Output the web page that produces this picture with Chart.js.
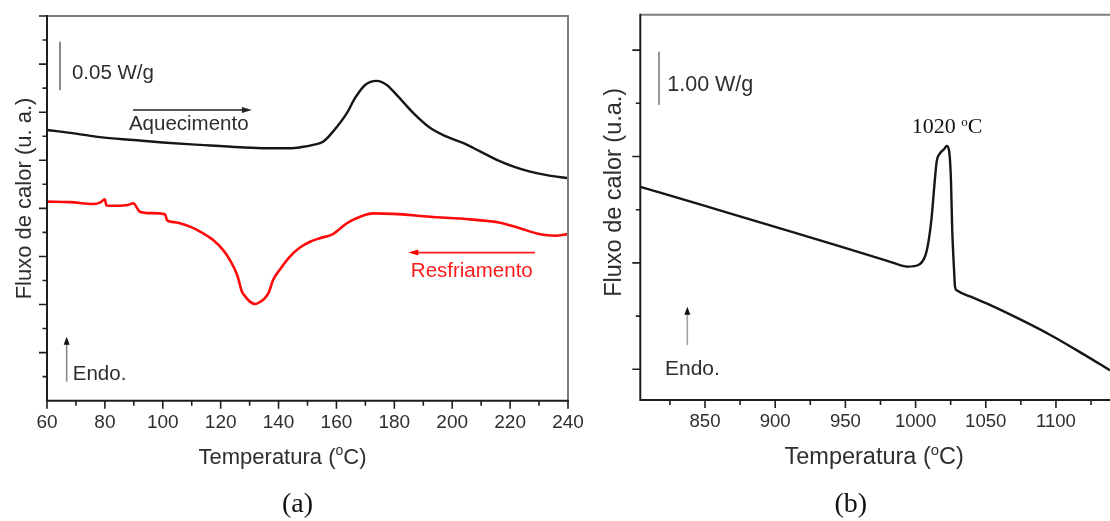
<!DOCTYPE html>
<html><head><meta charset="utf-8">
<script src="https://cdn.jsdelivr.net/npm/chart.js@4.4.1/dist/chart.umd.min.js"></script>
<style>
html,body{margin:0;padding:0;background:#fff;overflow:hidden;width:1110px;height:521px;}
#ca{position:absolute;left:0;top:0;}
#cb{position:absolute;left:585px;top:0;}
</style></head><body>
<canvas id="ca" width="600" height="521"></canvas>
<canvas id="cb" width="525" height="521"></canvas>
<script>
// ---------- DATA (a) ----------
const A_heatT = [60,70,78.3,90,100,112.9,126.7,136,144,148,151.9,155.4,158.8,163.6,166.4,169.9,173.9,177.4,180.8,186.6,192.3,198.1,203.9,209.6,215.4,221.2,226.9,232.7,240];
const A_heatF = [11.26,11.11,10.96,10.84,10.74,10.64,10.54,10.50,10.50,10.55,10.64,10.77,11.19,11.96,12.58,13.13,13.30,13.13,12.72,11.96,11.35,10.98,10.71,10.37,10.02,9.74,9.53,9.38,9.25];
const A_coolT = [60,68,76,78.5,80,80.5,84,88,89.8,92.1,96,100.8,101.5,104.2,109.4,112.9,117.4,120.8,123.2,125.7,127.4,128.4,130.1,131.9,133.6,135.3,136.7,138.1,140.5,144,147.4,150.9,154.3,158.8,163.6,168.2,172.6,179.6,192.3,206.2,216.5,223.4,230.4,235.5,240];
const A_coolF = [8.28,8.26,8.18,8.25,8.38,8.12,8.11,8.14,8.21,7.86,7.80,7.75,7.50,7.42,7.24,7.03,6.68,6.27,5.85,5.23,4.52,4.35,4.12,4.02,4.11,4.27,4.52,5.02,5.46,6.00,6.37,6.61,6.76,6.93,7.38,7.65,7.79,7.77,7.65,7.54,7.40,7.17,6.92,6.86,6.93];
const A_xTicks = [60,70,80,90,100,110,120,130,140,150,160,170,180,190,200,210,220,230,240];
const A_yTicks = [1,2,3,4,5,6,7,8,9,10,11,12,13,14,15,16];

// ---------- DATA (b) ----------
const B_T = [803.9,846.4,889.2,946.2,974.6,985.3,994.8,1001.9,1006.7,1009.0,1011.5,1013.3,1015.0,1017.4,1020.4,1022.2,1023.8,1025.2,1026.1,1027.4,1028.1,1029.5,1038.7,1052.9,1072.0,1095.7,1119.2,1138.5];
const B_F = [3.43,3.10,2.76,2.31,2.08,1.99,1.93,1.96,2.12,2.37,2.87,3.43,3.90,4.06,4.14,4.20,4.12,3.56,2.62,1.87,1.55,1.48,1.37,1.21,0.97,0.65,0.29,-0.02];
const B_xTicks = [825,850,875,900,925,950,975,1000,1025,1050,1075,1100,1125];
const B_yTicks = [0,1,2,3,4,5,6];

const SANS = '"Liberation Sans", Arial, Helvetica, sans-serif';
const SERIF = '"Liberation Serif", "Times New Roman", serif';
const TXT = '#2e2e2e';

function pts(t, f) { return t.map((v, i) => ({x: v, y: f[i]})); }

function txt(ctx, s, px, py, size, color, family, align) {
  ctx.font = size + 'px ' + (family || SANS);
  ctx.fillStyle = color; ctx.textAlign = align || 'left'; ctx.textBaseline = 'alphabetic';
  ctx.fillText(s, px, py);
}
function arrow(ctx, x1, y1, x2, y2, color, headColor, hl, hw, lw) {
  const a = Math.atan2(y2 - y1, x2 - x1), c = Math.cos(a), s = Math.sin(a);
  ctx.strokeStyle = color; ctx.lineWidth = lw;
  ctx.beginPath(); ctx.moveTo(x1, y1); ctx.lineTo(x2 - c * hl * 0.8, y2 - s * hl * 0.8); ctx.stroke();
  ctx.fillStyle = headColor;
  ctx.beginPath(); ctx.moveTo(x2, y2);
  ctx.lineTo(x2 - c * hl - s * hw, y2 - s * hl + c * hw);
  ctx.lineTo(x2 - c * hl + s * hw, y2 - s * hl - c * hw);
  ctx.closePath(); ctx.fill();
}
function tempTitle(ctx, cx, base, size, sup, raise) {
  const a = 'Temperatura (', c = 'C)';
  ctx.font = size + 'px ' + SANS;
  const wa = ctx.measureText(a).width, wc = ctx.measureText(c).width;
  ctx.font = sup + 'px ' + SANS;
  const wo = ctx.measureText('o').width;
  const x0 = cx - (wa + wo + wc) / 2;
  txt(ctx, a, x0, base, size, TXT);
  txt(ctx, 'o', x0 + wa, base - raise, sup, TXT);
  txt(ctx, c, x0 + wa + wo, base, size, TXT);
}
function yTitle(ctx, s, bx, cy, size) {
  ctx.save(); ctx.translate(bx, cy); ctx.rotate(-Math.PI / 2);
  txt(ctx, s, 0, 0, size, TXT, SANS, 'center');
  ctx.restore();
}
function frame(chart, xTicks, xMajor, yTicks, yMajor, rightBorder) {
  const {ctx, chartArea: ca, scales: {x, y}} = chart;
  ctx.lineCap = 'butt';
  ctx.lineWidth = 2; ctx.strokeStyle = '#7c7c7c';
  ctx.beginPath(); ctx.moveTo(ca.left, ca.top); ctx.lineTo(ca.right + 1, ca.top);
  if (rightBorder) { ctx.moveTo(ca.right, ca.top); ctx.lineTo(ca.right, ca.bottom); }
  ctx.stroke();
  ctx.strokeStyle = '#1e1e1e';
  ctx.beginPath(); ctx.moveTo(ca.left, ca.top - 1); ctx.lineTo(ca.left, ca.bottom + 1);
  ctx.moveTo(ca.left - 1, ca.bottom); ctx.lineTo(ca.right + 1, ca.bottom); ctx.stroke();
  ctx.lineWidth = 1.6;
  ctx.beginPath();
  xTicks.forEach(v => { const p = x.getPixelForValue(v), l = (v % xMajor === 0) ? 8 : 5;
    ctx.moveTo(p, ca.bottom); ctx.lineTo(p, ca.bottom + l); });
  yTicks.forEach(v => { const p = y.getPixelForValue(v), l = (v % yMajor === 0) ? 8 : 4.5;
    ctx.moveTo(ca.left, p); ctx.lineTo(ca.left - l, p); });
  ctx.stroke();
}

const decorA = {
  id: 'decorA',
  afterDraw(chart) {
    const {ctx, scales: {x, y}} = chart;
    const X = v => x.getPixelForValue(v), Y = v => y.getPixelForValue(v);
    ctx.save();
    frame(chart, A_xTicks, 20, A_yTicks, 2, true);
    ctx.strokeStyle = '#8a8a8a'; ctx.lineWidth = 2;
    ctx.beginPath(); ctx.moveTo(X(64.5), Y(14.93)); ctx.lineTo(X(64.5), Y(12.92)); ctx.stroke();
    txt(ctx, '0.05 W/g', X(68.6), Y(13.36), 20.5, TXT);
    arrow(ctx, X(89.7), Y(12.09), X(130.8), Y(12.09), '#222', '#222', 10, 3, 1.6);
    txt(ctx, 'Aquecimento', X(88.3), Y(11.26), 20.5, TXT);
    arrow(ctx, X(228.6), Y(6.16), X(184.8), Y(6.16), '#ff2020', '#ff0000', 10, 3, 1.6);
    txt(ctx, 'Resfriamento', X(185.7), Y(5.16), 20.5, '#ff1a1a');
    arrow(ctx, X(66.8), Y(0.79), X(66.8), Y(2.66), '#8a8a8a', '#111', 8, 3, 1.6);
    txt(ctx, 'Endo.', X(68.9), Y(0.86), 20.5, TXT);
    tempTitle(ctx, 282.5, 463.5, 22, 14, 8.5);
    yTitle(ctx, 'Fluxo de calor (u. a.)', 31, 198.5, 22);
    txt(ctx, '(a)', 297.5, 511.5, 28, '#111', SERIF, 'center');
    ctx.restore();
  }
};

const decorB = {
  id: 'decorB',
  afterDraw(chart) {
    const {ctx, scales: {x, y}} = chart;
    const X = v => x.getPixelForValue(v), Y = v => y.getPixelForValue(v);
    ctx.save();
    frame(chart, B_xTicks, 50, B_yTicks, 2, false);
    ctx.strokeStyle = '#959595'; ctx.lineWidth = 2;
    ctx.beginPath(); ctx.moveTo(X(817.2), Y(5.97)); ctx.lineTo(X(817.2), Y(4.97)); ctx.stroke();
    txt(ctx, '1.00 W/g', X(823.1), Y(5.24), 21.5, TXT);
    const px = X(997.2), py = Y(4.44);
    ctx.font = '22px ' + SERIF; const w1 = ctx.measureText('1020 ').width;
    ctx.font = '13px ' + SERIF; const w2 = ctx.measureText('o').width;
    txt(ctx, '1020 ', px, py, 22, '#111', SERIF);
    txt(ctx, 'o', px + w1, py - 7, 13, '#111', SERIF);
    txt(ctx, 'C', px + w1 + w2, py, 22, '#111', SERIF);
    arrow(ctx, X(837.4), Y(0.457), X(837.4), Y(1.177), '#a0a0a0', '#111', 8, 3, 1.6);
    txt(ctx, 'Endo.', X(821.5), Y(-0.107), 21, TXT);
    tempTitle(ctx, 289.2, 464, 23.5, 15, 9);
    yTitle(ctx, 'Fluxo de calor (u.a.)', 36, 192.3, 23.5);
    txt(ctx, '(b)', 265.8, 511.7, 28, '#111', SERIF, 'center');
    ctx.restore();
  }
};

const tickFont = (s) => ({family: SANS, size: s});

new Chart(document.getElementById('ca'), {
  type: 'line',
  data: { datasets: [
    { data: pts(A_heatT, A_heatF), borderColor: '#161616', borderWidth: 2.4, pointRadius: 0, cubicInterpolationMode: 'monotone', fill: false },
    { data: pts(A_coolT, A_coolF), borderColor: '#ff0a0a', borderWidth: 2.6, pointRadius: 0, cubicInterpolationMode: 'monotone', fill: false }
  ]},
  options: {
    responsive: false, animation: false, devicePixelRatio: 1,
    layout: { padding: { left: 47, top: 16, right: 32, bottom: 0 } },
    plugins: { legend: { display: false }, tooltip: { enabled: false } },
    scales: {
      x: { type: 'linear', min: 60, max: 240,
        afterBuildTicks: s => { s.ticks = A_xTicks.map(v => ({value: v})); },
        afterFit: s => { s.height = 120.3; },
        grid: { display: false, drawTicks: false }, border: { display: false },
        ticks: { autoSkip: false, maxRotation: 0, padding: 11, color: TXT, font: tickFont(19),
          callback: v => (v % 20 === 0 ? String(v) : '') } },
      y: { type: 'linear', display: false, min: 0, max: 16 }
    }
  },
  plugins: [decorA]
});

new Chart(document.getElementById('cb'), {
  type: 'line',
  data: { datasets: [
    { data: pts(B_T, B_F), borderColor: '#161616', borderWidth: 2.4, pointRadius: 0, cubicInterpolationMode: 'monotone', fill: false }
  ]},
  options: {
    responsive: false, animation: false, devicePixelRatio: 1,
    layout: { padding: { left: 55.3, top: 14.7, right: 0, bottom: 0 } },
    plugins: { legend: { display: false }, tooltip: { enabled: false } },
    scales: {
      x: { type: 'linear', min: 803.9, max: 1138.5,
        afterBuildTicks: s => { s.ticks = B_xTicks.map(v => ({value: v})); },
        afterFit: s => { s.height = 121; },
        grid: { display: false, drawTicks: false }, border: { display: false },
        ticks: { autoSkip: false, maxRotation: 0, padding: 11, color: TXT, font: tickFont(18.6),
          callback: v => (v % 50 === 0 ? String(v) : '') } },
      y: { type: 'linear', display: false, min: -0.577, max: 6.665 }
    }
  },
  plugins: [decorB]
});
</script>
</body></html>
